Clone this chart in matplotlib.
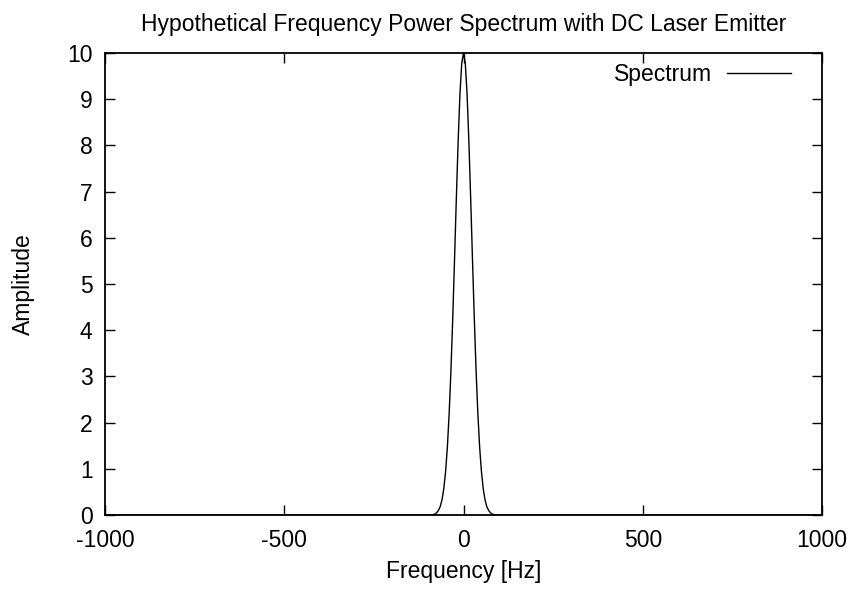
import matplotlib
matplotlib.use("Agg")
import matplotlib.pyplot as plt

# czestotliwosc [Hz] i amplituda
freq_hz = [-1000, -90, -80, -75, -70, -65, -60, -55, -50, -45, -40, -35, -30, -25, -20, -15, -10, -5,
           0, 5, 10, 15, 20, 25, 30, 35, 40, 45, 50, 55, 60, 65, 70, 75, 80, 90, 1000]
amplitude = [0.0, 0.0, 0.02, 0.05, 0.10, 0.18, 0.33, 0.57, 0.94, 1.47, 2.20, 3.14, 4.27, 5.54, 6.85, 8.08, 9.10, 9.77,
             10.0, 9.77, 9.10, 8.08, 6.85, 5.54, 4.27, 3.14, 2.20, 1.47, 0.94, 0.57, 0.33, 0.18, 0.10, 0.05, 0.02, 0.0, 0.0]
x_ticks = [-1000, -500, 0, 500, 1000]
y_ticks = list(range(0, 11))

plt.rcParams['font.family'] = ['Liberation Sans', 'DejaVu Sans']
plt.rcParams['axes.unicode_minus'] = False

fig = plt.figure(figsize=(8.54, 5.94), dpi=100)
ax = fig.add_axes([0.123, 0.133, 0.8395, 0.778])

ax.plot(freq_hz, amplitude, color='black', linewidth=1.0, label='Spectrum')

ax.set_xlim(-1000, 1000)
ax.set_ylim(0, 10)
ax.set_xticks(x_ticks)
ax.set_yticks(y_ticks)
ax.tick_params(direction='in', top=True, right=True, length=7, width=1,
               labelsize=16.5)
ax.tick_params(axis='x', pad=10)
ax.tick_params(axis='y', pad=9)
for s in ax.spines.values():
    s.set_linewidth(1.3)

ax.set_title('Hypothetical Frequency Power Spectrum with DC Laser Emitter', fontsize=16.5, pad=16)
ax.set_xlabel('Frequency [Hz]', fontsize=16.5, labelpad=6)
ax.set_ylabel('Amplitude', fontsize=16.5, labelpad=23)

ax.legend(loc='upper right', bbox_to_anchor=(0.983, 1.017), frameon=False, markerfirst=False,
          fontsize=16.5, handlelength=2.8, borderaxespad=0.4, handletextpad=0.65)

fig.savefig('out.png', dpi=100)
